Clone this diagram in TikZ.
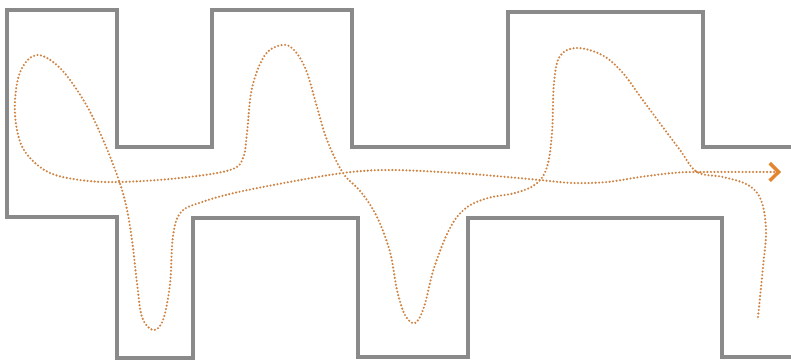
\documentclass[tikz,border=0pt]{standalone}
\usepackage{xcolor}
\usepackage{tikz}
\usetikzlibrary{arrows.meta}
\definecolor{clrWall}{HTML}{8A8A8A}
\definecolor{clrRoute}{HTML}{CF8444}
\definecolor{clrTip}{HTML}{E3852E}
\tikzset{
  wall/.style={draw=clrWall, line width=2.3pt, line join=miter},
  route/.style={draw=clrRoute, line width=1.35pt, line cap=round,
    dash pattern=on 0pt off 2pt},
  routetip/.style={-{Straight Barb[length=5pt, width=10pt, line width=2pt,
    color=clrTip]}},
}
\begin{document}
\begin{tikzpicture}[x=0.02cm, y=-0.02cm]

\useasboundingbox (0,0) rectangle (791,362);

\def\ychtop{147}
\def\ychbot{218}

% ── walls of the corridor ─────────────────────────────────────────────────
\draw[wall] (791,\ychtop) -- (703,\ychtop) -- (703,12) -- (508,12)
  -- (508,\ychtop) -- (352,\ychtop) -- (352,10) -- (212,10) -- (212,\ychtop)
  -- (117,\ychtop) -- (117,10) -- (7,10) -- (7,217) -- (117,217)
  -- (117,358) -- (193,358) -- (193,\ychbot) -- (358,\ychbot) -- (358,357)
  -- (468,357) -- (468,\ychbot) -- (722,\ychbot) -- (722,357) -- (791,357);

% ── the wandering route ───────────────────────────────────────────────────
\draw[route, routetip] plot[smooth, tension=0.6] coordinates {
  (758,317) (763,267) (766,230) (761,200) (748,185) (723,177) (697,172)
  (680,150) (662,126) (642,99) (622,72) (602,55) (577,48) (560,56)
  (554,83) (552,133) (547,167) (536,184) (515,193) (488,198) (466,208)
  (450,228) (434,268) (424,307) (415,323) (405,315) (397,290) (390,252)
  (377,217) (361,192) (343,173) (327,140) (317,107) (306,70) (294,50)
  (282,45) (265,55) (252,88) (247,133) (243,158) (230,170) (180,178)
  (120,182) (80,180) (48,172) (26,153) (17,130) (15,100) (21,70)
  (37,55) (60,68) (84,101) (101,135) (117,175) (126,205) (132,240)
  (137,283) (142,317) (153,330) (163,320) (170,284) (173,236) (181,212)
  (202,202) (234,193) (284,183) (343,173) (390,170) (457,173) (507,177)
  (540,180) (573,183) (607,182) (640,177) (673,173) (697,172) (781,172)
};

\end{tikzpicture}
\end{document}
